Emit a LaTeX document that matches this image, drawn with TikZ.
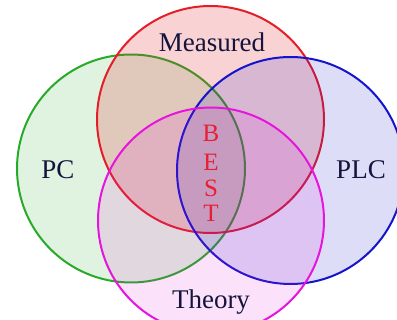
\documentclass[tikz,border=0pt]{standalone}
\usepackage{fontspec}
\setmainfont{Liberation Serif}
\definecolor{cred}{RGB}{228,30,40}
\definecolor{cgreen}{RGB}{40,170,40}
\definecolor{cblue}{RGB}{20,20,205}
\definecolor{cmag}{RGB}{230,20,220}
\definecolor{navy}{RGB}{20,20,60}
\definecolor{bestred}{RGB}{232,30,50}
\begin{document}
\begin{tikzpicture}[x=1pt,y=-1pt,
  ring/.style={line width=2pt},
  lab/.style={text=navy,font=\fontsize{27}{30}\selectfont},
  letter/.style={text=bestred,font=\fontsize{25}{28}\selectfont}]
\useasboundingbox (0,0) rectangle (397,320);
\clip (0,0) rectangle (397,320);
\fill[white] (0,0) rectangle (397,320);
\draw[ring,draw=cgreen,fill=cgreen,fill opacity=0.14] (131,168.5) circle (114);
\draw[ring,draw=cred,fill=cred,fill opacity=0.2] (210.5,119.5) circle (113.5);
\draw[ring,draw=cblue,fill=cblue,fill opacity=0.14] (290.5,170.5) circle (113.5);
\draw[ring,draw=cmag,fill=cmag,fill opacity=0.12] (211,220.5) circle (113);
\node[lab] (measured) at (212,42) {Measured};
\node[lab] (pc) at (58,170) {PC};
\node[lab] (plc) at (361,170) {PLC};
\node[lab] (theory) at (211,302) {Theory};
\node[letter] (b) at (211,133) {B};
\node[letter] (e) at (211,162) {E};
\node[letter] (s) at (211,188) {S};
\node[letter] (t) at (211,213) {T};
\end{tikzpicture}
\end{document}
